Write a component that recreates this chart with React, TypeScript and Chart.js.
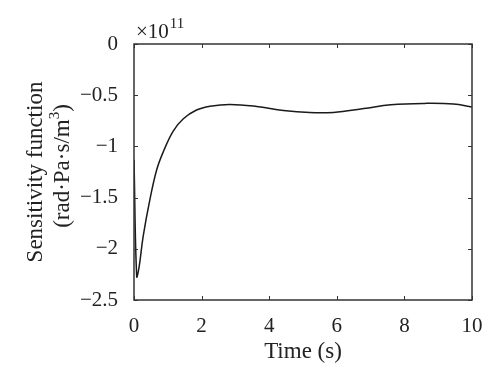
import React, { useEffect, useRef } from "react";
import { Chart, registerables } from "chart.js";

Chart.register(...registerables);

const times = [0, 0.08, 0.15, 0.27, 0.47, 0.67, 0.87, 1.16, 1.46, 1.85, 2.25, 2.84, 3.63, 4.42, 5.2, 5.9, 6.8, 7.6, 8.6, 9.45, 10];
const sensitivity = [-1.13, -2.27, -2.18, -1.88, -1.52, -1.23, -1.05, -0.85, -0.73, -0.645, -0.608, -0.59, -0.61, -0.65, -0.67, -0.668, -0.63, -0.593, -0.58, -0.586, -0.615];
const xTicks = [0, 2, 4, 6, 8, 10];
const yTicks = [-2.5, -2, -1.5, -1, -0.5, 0];
const xTitle = "Time (s)";
const yTitle1 = "Sensitivity function";
const yTitle2 = "(rad·Pa·s/m";
const yTitle2Sup = "3";
const exponentBase = "×10";
const exponentPow = "11";

const FONT = "'Liberation Serif', 'Times New Roman', serif";
const TEXT = "#222";
const AXIS = "#333";

const overlay = {
  id: "overlay",
  afterDraw(chart: any) {
    const { ctx, chartArea } = chart;
    const { left, right, top, bottom } = chartArea;
    const xs = chart.scales.x;
    const ys = chart.scales.y;
    ctx.save();
    ctx.strokeStyle = AXIS;
    ctx.lineWidth = 1.5;
    ctx.strokeRect(left, top, right - left, bottom - top);
    ctx.lineWidth = 1;
    const tl = 4;
    ctx.beginPath();
    xs.ticks.forEach((t: any) => {
      const px = Math.round(xs.getPixelForValue(t.value)) + 0.5;
      ctx.moveTo(px, bottom);
      ctx.lineTo(px, bottom - tl);
      ctx.moveTo(px, top);
      ctx.lineTo(px, top + tl);
    });
    ys.ticks.forEach((t: any) => {
      const py = Math.round(ys.getPixelForValue(t.value)) + 0.5;
      ctx.moveTo(left, py);
      ctx.lineTo(left + tl, py);
      ctx.moveTo(right, py);
      ctx.lineTo(right - tl, py);
    });
    ctx.stroke();

    ctx.fillStyle = TEXT;
    // exponent
    ctx.textAlign = "left";
    ctx.textBaseline = "alphabetic";
    ctx.font = `21px ${FONT}`;
    ctx.fillText(exponentBase, left + 2, top - 6);
    const w = ctx.measureText(exponentBase).width;
    ctx.font = `15px ${FONT}`;
    ctx.fillText(exponentPow, left + 2 + w + 1, top - 16);

    // x title
    ctx.font = `23px ${FONT}`;
    ctx.textAlign = "center";
    ctx.textBaseline = "alphabetic";
    ctx.fillText(xTitle, (left + right) / 2, 358);

    // y title line 1
    ctx.save();
    ctx.translate(42, 172);
    ctx.rotate(-Math.PI / 2);
    ctx.font = `23px ${FONT}`;
    ctx.textAlign = "center";
    ctx.fillText(yTitle1, 0, 0);
    ctx.restore();

    // y title line 2
    ctx.save();
    ctx.translate(69, 166);
    ctx.rotate(-Math.PI / 2);
    ctx.font = `23px ${FONT}`;
    const w2 = ctx.measureText(yTitle2).width;
    ctx.font = `15px ${FONT}`;
    const ws = ctx.measureText(yTitle2Sup).width;
    ctx.font = `23px ${FONT}`;
    const wp = ctx.measureText(")").width;
    const total = w2 + ws + wp;
    const x0 = -total / 2;
    ctx.textAlign = "left";
    ctx.fillText(yTitle2, x0, 0);
    ctx.font = `15px ${FONT}`;
    ctx.fillText(yTitle2Sup, x0 + w2, -10);
    ctx.font = `23px ${FONT}`;
    ctx.fillText(")", x0 + w2 + ws, 0);
    ctx.restore();
    ctx.restore();
  },
};

export default function App() {
  const ref = useRef<HTMLCanvasElement>(null);
  useEffect(() => {
    if (!ref.current) return;
    const data = times.map((t, i) => ({ x: t, y: sensitivity[i] }));
    const chart = new Chart(ref.current, {
      type: "line",
      data: {
        datasets: [
          {
            data,
            borderColor: "#1a1a1a",
            borderWidth: 1.5,
            pointRadius: 0,
            fill: false,
            tension: 0.4,
          },
        ],
      },
      options: {
        responsive: false,
        maintainAspectRatio: false,
        animation: false,
        layout: { padding: { left: 0, top: 44, right: 28, bottom: 0 } },
        plugins: { legend: { display: false }, tooltip: { enabled: false } },
        scales: {
          x: {
            type: "linear",
            min: 0,
            max: 10,
            afterBuildTicks: (s: any) => {
              s.ticks = xTicks.map((v) => ({ value: v }));
            },
            afterFit: (s: any) => {
              s.height = 81;
            },
            grid: { display: false },
            border: { display: false },
            ticks: {
              color: TEXT,
              font: { family: FONT, size: 21 },
              padding: 6,
              maxRotation: 0,
              callback: (v: any) => String(v),
            },
          },
          y: {
            type: "linear",
            min: -2.5,
            max: 0,
            afterBuildTicks: (s: any) => {
              s.ticks = yTicks.map((v) => ({ value: v }));
            },
            afterFit: (s: any) => {
              s.width = 134;
            },
            grid: { display: false },
            border: { display: false },
            ticks: {
              color: TEXT,
              font: { family: FONT, size: 21 },
              padding: 8,
              callback: (v: any) => (v === 0 ? "0" : "\u2212" + String(Math.abs(v))),
            },
          },
        },
      },
      plugins: [overlay],
    });
    return () => chart.destroy();
  }, []);
  return (
    <div style={{ position: "absolute", left: 0, top: 0, width: 500, height: 381, background: "#fff" }}>
      <canvas ref={ref} width={500} height={381} style={{ width: 500, height: 381 }} />
    </div>
  );
}
